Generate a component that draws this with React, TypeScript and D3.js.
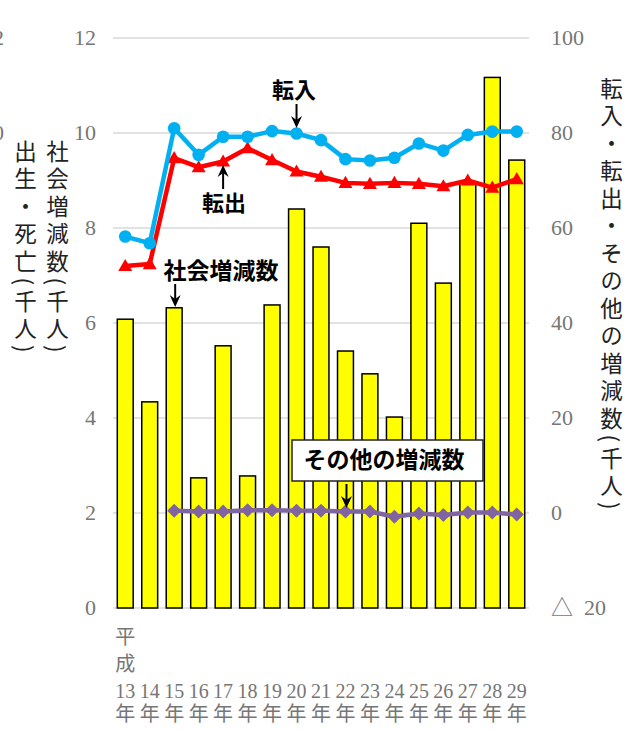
import React from "react";
import * as d3 from "d3";

// ---- data ----
const years = ["13", "14", "15", "16", "17", "18", "19", "20", "21", "22", "23", "24", "25", "26", "27", "28", "29"];
const eraPrefix = ["平", "成"];
const yearSuffix = "年";
// 社会増減数 (千人) — left axis
const socialChange = [6.08, 4.34, 6.32, 2.74, 5.52, 2.78, 6.38, 8.4, 7.6, 5.41, 4.93, 4.02, 8.1, 6.84, 8.95, 11.17, 9.43];
// 転入 (千人) — right axis
const moveIn = [58.2, 56.8, 81.0, 75.4, 79.2, 79.2, 80.4, 79.9, 78.5, 74.5, 74.2, 74.8, 77.8, 76.3, 79.6, 80.3, 80.3];
// 転出 (千人) — right axis
const moveOut = [52.0, 52.4, 74.7, 72.8, 74.0, 76.8, 74.3, 71.9, 70.8, 69.5, 69.3, 69.5, 69.3, 68.8, 70.0, 68.5, 70.3];
// その他の増減数 (千人) — right axis
const otherChange: (number | null)[] = [null, null, 0.5, 0.3, 0.3, 0.6, 0.6, 0.5, 0.5, 0.3, 0.3, -0.8, -0.1, -0.4, 0.1, 0.1, -0.3];
const leftTicks = [0, 2, 4, 6, 8, 10, 12];
const rightTicks = [-20, 0, 20, 40, 60, 80, 100];
const clippedTicks = [12, 10];
const leftTitleOuter = "出生・死亡(千人)";
const leftTitleInner = "社会増減数(千人)";
const rightTitle = "転入・転出・その他の増減数(千人)";
const labelIn = "転入";
const labelOut = "転出";
const labelSocial = "社会増減数";
const labelOther = "その他の増減数";

// ---- layout ----
const W = 636;
const H = 731;
const X0 = 113;
const X1 = 529;
const Y0 = 608;
const Y1 = 38;

const SERIF = "'Liberation Serif', 'Noto Sans CJK JP', serif";
const CJK = "'Noto Sans CJK JP', sans-serif";
const GRAY = "#767676";

function Arrow({ x, from, to }: { x: number; from: number; to: number }) {
  const dir = to > from ? 1 : -1;
  const hl = 12;
  const hw = 5.5;
  const notch = 8;
  return (
    <g>
      <line x1={x} x2={x} y1={from} y2={to - dir * notch} stroke="#000" strokeWidth={2} />
      <path
        d={`M${x},${to} L${x - hw},${to - dir * hl} L${x},${to - dir * notch} L${x + hw},${to - dir * hl} Z`}
        fill="#000"
      />
    </g>
  );
}

export default function App() {
  const x = d3
    .scaleBand<string>()
    .domain(years)
    .range([X0, X1])
    .paddingInner(0.35)
    .paddingOuter(0.175);
  const xc = (i: number) => (x(years[i]) as number) + x.bandwidth() / 2;
  const yL = d3.scaleLinear().domain([0, 12]).range([Y0, Y1]);
  const yR = d3.scaleLinear().domain([-20, 100]).range([Y0, Y1]);

  const lineR = d3
    .line<number | null>()
    .defined((d) => d !== null)
    .x((_, i) => xc(i))
    .y((d) => yR(d as number));

  const tri = (cx: number, cy: number) => {
    const s = 14;
    const h = (s * Math.sqrt(3)) / 2;
    return `M${cx},${cy - h / 2 - 1} L${cx + s / 2},${cy + h / 2 - 1} L${cx - s / 2},${cy + h / 2 - 1} Z`;
  };
  const dia = (cx: number, cy: number) => {
    const r = 7;
    return `M${cx},${cy - r} L${cx + r},${cy} L${cx},${cy + r} L${cx - r},${cy} Z`;
  };

  const fmtR = (v: number) => (v < 0 ? `△  ${Math.abs(v)}` : String(v));

  return (
    <svg
      width={W}
      height={H}
      style={{ position: "absolute", left: 0, top: 0, display: "block", background: "#fff" }}
    >
      {/* gridlines */}
      {leftTicks.map((t) => (
        <line key={t} x1={X0} x2={X1} y1={yL(t)} y2={yL(t)} stroke="#d9d9d9" strokeWidth={1.4} />
      ))}

      {/* left tick labels */}
      {leftTicks.map((t) => (
        <text key={t} x={96} y={yL(t)} dy="0.34em" textAnchor="end" fontFamily={SERIF} fontSize={22} fill={GRAY}>
          {t}
        </text>
      ))}
      {/* clipped outer axis labels */}
      {clippedTicks.map((t) => (
        <text key={t} x={4} y={yL(t)} dy="0.34em" textAnchor="end" fontFamily={SERIF} fontSize={22} fill={GRAY}>
          {t}
        </text>
      ))}
      {/* right tick labels */}
      {rightTicks.map((t) => (
        <text key={t} x={551} y={yR(t)} dy="0.34em" textAnchor="start" fontFamily={SERIF} fontSize={22} fill={GRAY} style={{ whiteSpace: "pre" }}>
          {fmtR(t)}
        </text>
      ))}

      {/* axis titles (vertical) */}
      <text x={25.5} y={140} fontFamily={CJK} fontSize={22.5} fill="#222" letterSpacing={5} style={{ writingMode: "vertical-rl" }}>
        {leftTitleOuter}
      </text>
      <text x={57.5} y={140} fontFamily={CJK} fontSize={22.5} fill="#222" letterSpacing={5} style={{ writingMode: "vertical-rl" }}>
        {leftTitleInner}
      </text>
      <text x={611.5} y={77} fontFamily={CJK} fontSize={22.5} fill="#222" letterSpacing={5} style={{ writingMode: "vertical-rl" }}>
        {rightTitle}
      </text>

      {/* x labels: one text per category, lines as tspans */}
      {years.map((yr, i) => (
        <text key={yr} fontSize={20} fill={GRAY} textAnchor="middle" fontFamily={SERIF}>
          {i === 0 &&
            eraPrefix.map((c, k) => (
              <tspan key={c} x={xc(i)} y={644 + k * 27} fontFamily={CJK}>
                {c}
              </tspan>
            ))}
          <tspan x={xc(i)} y={698}>
            {yr}
          </tspan>
          <tspan x={xc(i)} y={721} fontFamily={CJK}>
            {yearSuffix}
          </tspan>
        </text>
      ))}

      {/* bars */}
      {socialChange.map((v, i) => (
        <rect
          key={i}
          x={x(years[i])}
          y={yL(v)}
          width={x.bandwidth()}
          height={yL(0) - yL(v)}
          fill="#ffff00"
          stroke="#000"
          strokeWidth={1.5}
        />
      ))}

      {/* その他 line */}
      <path d={lineR(otherChange) || ""} fill="none" stroke="#8064a2" strokeWidth={4.5} strokeLinejoin="round" />
      {otherChange.map((v, i) =>
        v === null ? null : <path key={i} d={dia(xc(i), yR(v))} fill="#8064a2" />
      )}

      {/* 転出 line */}
      <path d={lineR(moveOut) || ""} fill="none" stroke="#ff0000" strokeWidth={4.5} strokeLinejoin="round" />
      {moveOut.map((v, i) => (
        <path key={i} d={tri(xc(i), yR(v))} fill="#ff0000" />
      ))}

      {/* 転入 line */}
      <path d={lineR(moveIn) || ""} fill="none" stroke="#00b0f0" strokeWidth={4.5} strokeLinejoin="round" />
      {moveIn.map((v, i) => (
        <circle key={i} cx={xc(i)} cy={yR(v)} r={6.3} fill="#00b0f0" />
      ))}

      {/* annotations */}
      <text x={294} y={98} textAnchor="middle" fontFamily={CJK} fontWeight={700} fontSize={22} fill="#000">
        {labelIn}
      </text>
      <Arrow x={xc(7)} from={104} to={128} />

      <text x={224} y={211} textAnchor="middle" fontFamily={CJK} fontWeight={700} fontSize={22} fill="#000">
        {labelOut}
      </text>
      <Arrow x={xc(4)} from={189} to={165} />

      <text x={221} y={279} textAnchor="middle" fontFamily={CJK} fontWeight={700} fontSize={23} fill="#000">
        {labelSocial}
      </text>
      <Arrow x={xc(2) + 1} from={284} to={307} />

      <rect x={292} y={440} width={191} height={41} fill="#fff" stroke="#222" strokeWidth={1.5} />
      <text x={384} y={468} textAnchor="middle" fontFamily={CJK} fontWeight={700} fontSize={23} fill="#000">
        {labelOther}
      </text>
      <Arrow x={xc(9) + 1} from={484} to={508} />
    </svg>
  );
}
